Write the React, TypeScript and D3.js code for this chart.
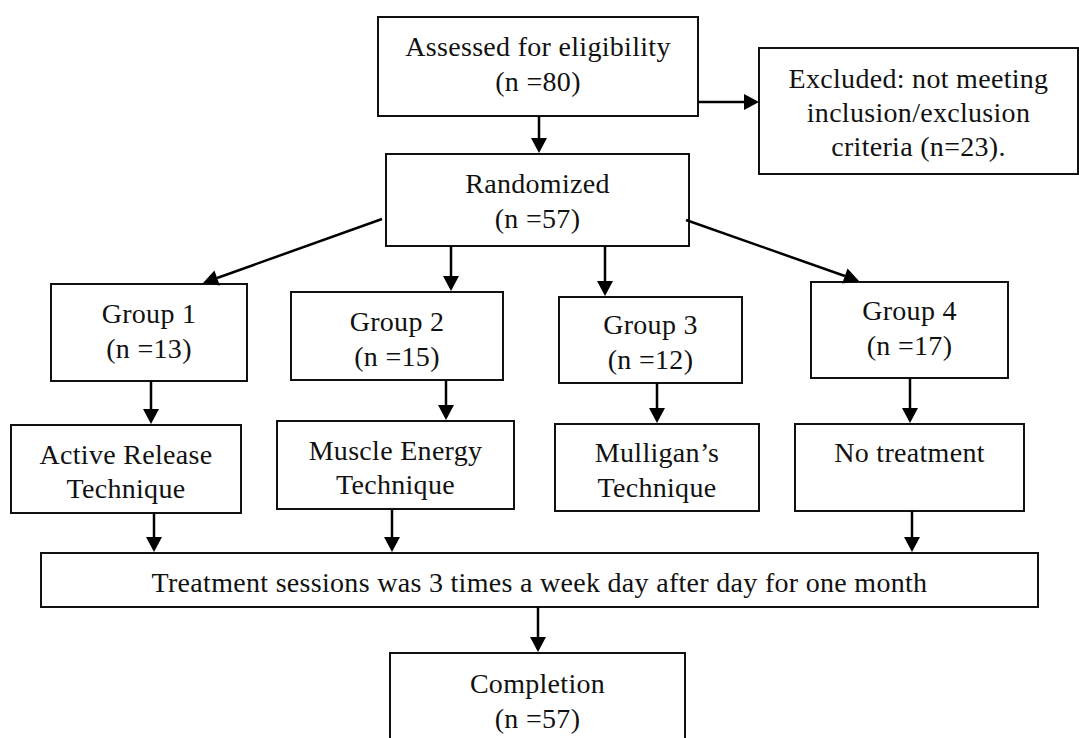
import { useRef, useEffect } from "react";
import * as d3 from "d3";

// Participant counts
const assessedN = 80;
const excludedN = 23;
const randomizedN = 57;
const groupNames = ["Group 1", "Group 2", "Group 3", "Group 4"];
const groupCounts = [13, 15, 12, 17];
const treatmentLines = [
  ["Active Release", "Technique"],
  ["Muscle Energy", "Technique"],
  ["Mulligan\u2019s", "Technique"],
  ["No treatment"],
];
const sessionText = "Treatment sessions was 3 times a week day after day for one month";
const completionN = 57;

interface Box {
  id: string;
  x: number;
  y: number;
  w: number;
  h: number;
  lines: string[];
  ty: number; // first line centre
  gap: number;
}

const W = 1079;
const H = 738;

// box geometry (layout only)
const groupGeom = [
  { x: 51, y: 284, w: 196, h: 97, ty: 313 },
  { x: 291, y: 292, w: 212, h: 88, ty: 321 },
  { x: 559, y: 297, w: 183, h: 86, ty: 324 },
  { x: 811, y: 282, w: 197, h: 96, ty: 310 },
];
const treatGeom = [
  { x: 11, y: 425, w: 230, h: 88, ty: 454, gap: 34 },
  { x: 277, y: 421, w: 237, h: 88, ty: 450, gap: 34 },
  { x: 555, y: 424, w: 204, h: 87, ty: 452, gap: 35 },
  { x: 795, y: 424, w: 229, h: 87, ty: 452, gap: 35 },
];

export default function App() {
  const svgRef = useRef<SVGSVGElement>(null);

  useEffect(() => {
    if (!svgRef.current) return;
    const svg = d3.select(svgRef.current);
    svg.selectAll("*").remove();

    const boxes: Box[] = [
      { id: "assess", x: 378, y: 17, w: 320, h: 99, lines: ["Assessed for eligibility", `(n =${assessedN})`], ty: 46, gap: 35 },
      { id: "excl", x: 759, y: 48, w: 319, h: 126, lines: ["Excluded: not meeting", "inclusion/exclusion", `criteria (n=${excludedN}).`], ty: 78, gap: 34 },
      { id: "rand", x: 386, y: 154, w: 303, h: 92, lines: ["Randomized", `(n =${randomizedN})`], ty: 183, gap: 35 },
      ...groupGeom.map((g, i) => ({ id: `g${i}`, ...g, lines: [groupNames[i], `(n =${groupCounts[i]})`], gap: 35 })),
      ...treatGeom.map((g, i) => ({ id: `t${i}`, ...g, lines: treatmentLines[i] })),
      { id: "treat", x: 41, y: 553, w: 997, h: 54, lines: [sessionText], ty: 582, gap: 0 },
      { id: "done", x: 390, y: 653, w: 295, h: 110, lines: ["Completion", `(n =${completionN})`], ty: 683, gap: 35 },
    ];
    const byId = new Map(boxes.map((b) => [b.id, b]));
    const B = (id: string) => byId.get(id)!;

    const g = svg.append("g");

    g.selectAll("rect.box")
      .data(boxes)
      .enter()
      .append("rect")
      .attr("class", "box")
      .attr("x", (d) => d.x)
      .attr("y", (d) => d.y)
      .attr("width", (d) => d.w)
      .attr("height", (d) => d.h)
      .attr("fill", "#fff")
      .attr("stroke", "#111")
      .attr("stroke-width", 2);

    boxes.forEach((b) => {
      b.lines.forEach((line, i) => {
        g.append("text")
          .attr("x", b.x + b.w / 2)
          .attr("y", b.ty + i * b.gap)
          .attr("text-anchor", "middle")
          .attr("dominant-baseline", "central")
          .attr("font-family", "'Liberation Serif', 'Times New Roman', serif")
          .attr("font-size", 28)
          .attr("letter-spacing", 0.3)
          .attr("fill", "#111")
          .text(line);
      });
    });

    // arrows: [x1, y1, x2, y2] derived from box edges
    const vert = (from: string, to: string, x: number) => [x, B(from).y + B(from).h, x, B(to).y - 1];
    const arrows: number[][] = [
      vert("assess", "rand", 539),
      [B("assess").x + B("assess").w, 102, B("excl").x, 102],
      [382, 219, 203, B("g0").y - 1],
      vert("rand", "g1", 451),
      vert("rand", "g2", 605),
      [686, 220, 859, B("g3").y - 1],
      vert("g0", "t0", 151),
      vert("g1", "t1", 446),
      vert("g2", "t2", 657),
      vert("g3", "t3", 910),
      vert("t0", "treat", 154),
      vert("t1", "treat", 392),
      vert("t3", "treat", 912),
      vert("treat", "done", 538),
    ];

    const head = 15;
    const halfW = 8;
    arrows.forEach(([x1, y1, x2, y2]) => {
      const a = Math.atan2(y2 - y1, x2 - x1);
      const bx = x2 - head * Math.cos(a);
      const by = y2 - head * Math.sin(a);
      g.append("line")
        .attr("x1", x1)
        .attr("y1", y1)
        .attr("x2", bx)
        .attr("y2", by)
        .attr("stroke", "#000")
        .attr("stroke-width", 2.5);
      const px = -Math.sin(a) * halfW;
      const py = Math.cos(a) * halfW;
      const path = d3.path();
      path.moveTo(x2, y2);
      path.lineTo(bx + px, by + py);
      path.lineTo(bx - px, by - py);
      path.closePath();
      g.append("path").attr("d", path.toString()).attr("fill", "#000");
    });
  }, []);

  return (
    <svg
      ref={svgRef}
      width={W}
      height={H}
      style={{ position: "absolute", left: 0, top: 0, background: "#fff" }}
      role="img"
      aria-label="Study flow diagram"
    />
  );
}
